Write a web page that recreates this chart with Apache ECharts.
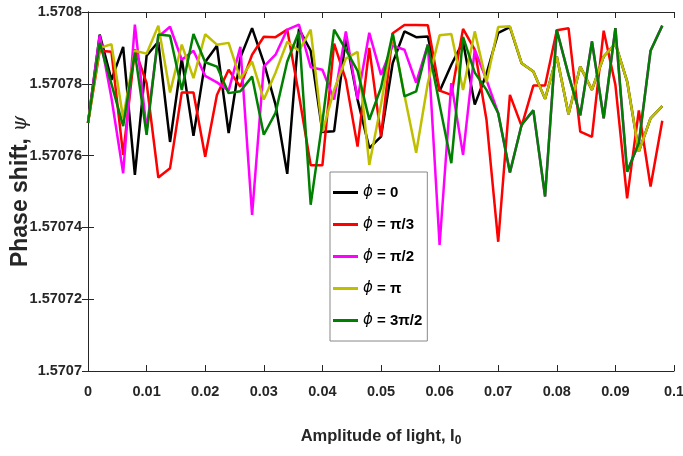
<!DOCTYPE html>
<html><head><meta charset="utf-8">
<script src="https://cdn.jsdelivr.net/npm/echarts@6/dist/echarts.min.js"></script>
<style>html,body{margin:0;padding:0;background:#fff}#c{width:683px;height:456px}</style>
</head><body><div id="c"></div>
<script>
const xValues = [0,0.002,0.004,0.006,0.008,0.01,0.012,0.014,0.016,0.018,0.02,0.022,0.024,0.026,0.028,0.03,0.032,0.034,0.036,0.038,0.04,0.042,0.044,0.046,0.048,0.05,0.052,0.054,0.056,0.058,0.06,0.062,0.064,0.066,0.068,0.07,0.072,0.074,0.076,0.078,0.08,0.082,0.084,0.086,0.088,0.09,0.092,0.094,0.096,0.098];
const seriesNames = ['ϕ = 0','ϕ = π/3','ϕ = π/2','ϕ = π','ϕ = 3π/2'];
const seriesColors = ['#000000','#ff0000','#ff00ff','#bfbf00','#008000'];
const phi0 = [1.5707691,1.5707937,1.5707811,1.5707903,1.5707546,1.5707878,1.5707917,1.5707638,1.5707870,1.5707655,1.5707861,1.5707906,1.5707663,1.5707873,1.5707955,1.5707859,1.5707742,1.5707549,1.5707953,1.5707892,1.5707666,1.5707668,1.5707928,1.5707756,1.5707621,1.5707653,1.5707858,1.5707946,1.5707930,1.5707932,1.5707779,1.5707853,1.5707917,1.5707742,1.5707828,1.5707942,1.5707958,1.5707857,1.5707834,1.5707758,1.5707876,1.5707715,1.5707848,1.5707783,1.5707876,1.5707912,1.5707807,1.5707611,1.5707704,1.5707738];
const phiPi3 = [1.5707691,1.5707892,1.5707889,1.5707602,1.5707896,1.5707802,1.5707539,1.5707565,1.5707776,1.5707776,1.5707597,1.5707769,1.5707839,1.5707792,1.5707881,1.5707931,1.5707930,1.5707951,1.5707769,1.5707573,1.5707573,1.5707912,1.5707811,1.5707625,1.5707900,1.5707653,1.5707941,1.5707964,1.5707964,1.5707963,1.5707781,1.5707769,1.5707953,1.5707895,1.5707700,1.5707360,1.5707769,1.5707682,1.5707795,1.5707795,1.5707949,1.5707955,1.5707667,1.5707652,1.5707948,1.5707797,1.5707481,1.5707726,1.5707514,1.5707697];
const phiPi2 = [1.5707691,1.5707935,1.5707761,1.5707551,1.5707965,1.5707672,1.5707931,1.5707959,1.5707867,1.5707892,1.5707822,1.5707804,1.5707781,1.5707903,1.5707435,1.5707848,1.5707881,1.5707951,1.5707965,1.5707846,1.5707839,1.5707756,1.5707946,1.5707758,1.5707942,1.5707825,1.5707906,1.5707895,1.5707803,1.5707909,1.5707351,1.5707802,1.5707602,1.5707895,1.5707811,1.5707718,1.5707553,1.5707686,1.5707726,1.5707486,1.5707950,1.5707825,1.5707712,1.5707918,1.5707704,1.5707955,1.5707555,1.5707635,1.5707892,1.5707962];
const phiPi = [1.5707691,1.5707900,1.5707910,1.5707704,1.5707892,1.5707884,1.5707962,1.5707776,1.5707909,1.5707816,1.5707938,1.5707909,1.5707914,1.5707814,1.5707862,1.5707756,1.5707831,1.5707917,1.5707892,1.5707951,1.5707666,1.5707783,1.5707870,1.5707889,1.5707574,1.5707742,1.5707937,1.5707769,1.5707608,1.5707803,1.5707935,1.5707939,1.5707783,1.5707946,1.5707804,1.5707958,1.5707960,1.5707857,1.5707834,1.5707758,1.5707876,1.5707715,1.5707848,1.5707783,1.5707876,1.5707912,1.5707807,1.5707611,1.5707704,1.5707738];
const phi3Pi2 = [1.5707691,1.5707914,1.5707800,1.5707682,1.5707887,1.5707658,1.5707937,1.5707934,1.5707783,1.5707939,1.5707860,1.5707848,1.5707774,1.5707779,1.5707820,1.5707658,1.5707719,1.5707862,1.5707945,1.5707463,1.5707694,1.5707951,1.5707895,1.5707836,1.5707700,1.5707789,1.5707941,1.5707765,1.5707779,1.5707909,1.5707742,1.5707579,1.5707931,1.5707831,1.5707783,1.5707718,1.5707553,1.5707686,1.5707726,1.5707486,1.5707950,1.5707825,1.5707712,1.5707918,1.5707704,1.5707955,1.5707555,1.5707635,1.5707892,1.5707962];
const xTickMin = 0, xTickMax = 0.1, xTickStep = 0.01;
const yTickMin = 1.5707, yTickMax = 1.5708, yTickStep = 0.00002;

const allData = [phi0, phiPi3, phiPi2, phiPi, phi3Pi2];
const chart = echarts.init(document.getElementById('c'), null, {renderer:'canvas'});
const axisCol = '#262626';
const numFont = '"Liberation Sans",Arial,sans-serif';
const series = allData.map((d, k) => ({
  name: seriesNames[k], type: 'line', symbol: 'none', animation: false,
  data: d.map((v, i) => [xValues[i], v]),
  lineStyle: {color: seriesColors[k], width: 2.5},
  itemStyle: {color: seriesColors[k]}
}));
const hiddenAxisBits = {
  axisLine: {show: true, lineStyle: {color: axisCol, width: 1}},
  axisTick: {show: true, inside: true, length: 6, lineStyle: {color: axisCol}},
  axisLabel: {show: false}, splitLine: {show: false}
};
chart.setOption({
  animation: false,
  backgroundColor: '#fff',
  grid: {left: 88, top: 12, width: 586, height: 359, containLabel: false, outerBoundsMode: 'none'},
  xAxis: [{
    type: 'value', min: xTickMin, max: xTickMax, interval: xTickStep,
    name: '{a|Amplitude of light, I}{s|0}', nameLocation: 'middle', nameGap: 54,
    nameTextStyle: {rich: {
      a: {fontFamily: numFont, fontSize: 16.5, fontWeight: 'bold', color: '#262626'},
      s: {fontFamily: numFont, fontSize: 12, fontWeight: 'bold', color: '#262626', verticalAlign: 'bottom', padding: [10,0,0,0]}
    }},
    axisLine: {show: true, onZero: false, lineStyle: {color: axisCol, width: 1}},
    axisTick: {show: true, inside: true, length: 6, lineStyle: {color: axisCol}},
    axisLabel: {margin: 13, fontFamily: numFont, fontSize: 14.5, fontWeight: 'bold', color: '#262626',
      formatter: v => String(+v.toFixed(2))},
    splitLine: {show: false}
  }, Object.assign({type: 'value', position: 'top', min: xTickMin, max: xTickMax, interval: xTickStep}, hiddenAxisBits)],
  yAxis: [{
    type: 'value', min: yTickMin, max: yTickMax, interval: yTickStep,
    name: '{a|Phase shift, }{p|ψ}', nameLocation: 'middle', nameGap: 56, nameMoveOverlap: false,
    nameTextStyle: {rich: {
      a: {fontFamily: numFont, fontSize: 23, fontWeight: 'bold', color: '#262626'},
      p: {fontFamily: '"DejaVu Serif",serif', fontSize: 20, fontStyle: 'italic', color: '#262626'}
    }},
    axisLine: {show: true, onZero: false, lineStyle: {color: axisCol, width: 1}},
    axisTick: {show: true, inside: true, length: 6, lineStyle: {color: axisCol}},
    axisLabel: {margin: 6, fontFamily: numFont, fontSize: 14.5, fontWeight: 'bold', color: '#262626',
      formatter: v => String(+v.toFixed(5))},
    splitLine: {show: false}
  }, Object.assign({type: 'value', position: 'right', min: yTickMin, max: yTickMax, interval: yTickStep}, hiddenAxisBits)],
  legend: {
    orient: 'vertical', left: 330, top: 172,
    padding: [13, 5, 13, 3], itemGap: 17, itemWidth: 25, itemHeight: 3,
    icon: 'rect',
    borderColor: '#888', borderWidth: 1, backgroundColor: '#fff',
    data: seriesNames,
    formatter: n => '{i|ϕ}{t|' + n.slice(1) + '}',
    textStyle: {rich: {
      i: {fontFamily: '"DejaVu Sans",sans-serif', fontStyle: 'italic', fontSize: 15, color: '#000'},
      t: {fontFamily: numFont, fontWeight: 'bold', fontSize: 15, color: '#000'}
    }}
  },
  series: series
});
</script>
</body></html>
